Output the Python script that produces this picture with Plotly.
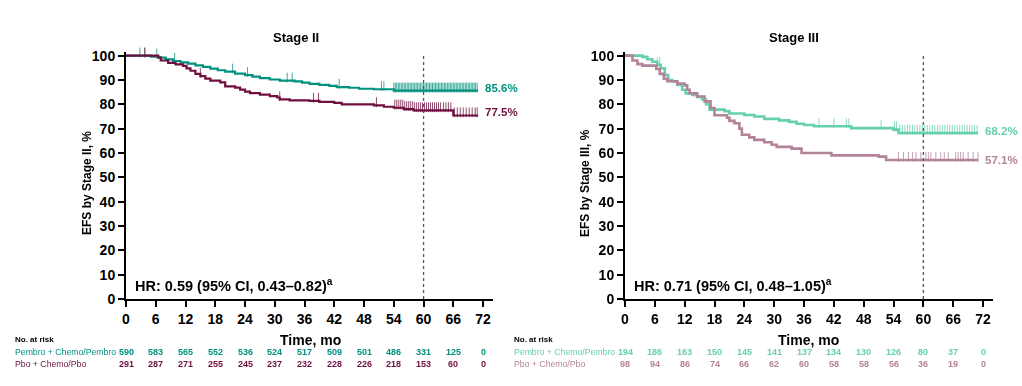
import plotly.graph_objects as go

# ---------------- data ----------------
time_ticks = [0, 6, 12, 18, 24, 30, 36, 42, 48, 54, 60, 66, 72]
y_ticks = [0, 10, 20, 30, 40, 50, 60, 70, 80, 90, 100]

# Stage II
s2_pem_t = [0, 5, 6.5, 8, 9.5, 11, 12.5, 14, 15.5, 17, 18.5, 20, 22, 24, 25.5, 27, 29, 31, 34, 35.5,
            37, 39, 41, 42.5, 45, 47, 50, 54, 71]
s2_pem_s = [100, 99.6, 99.2, 98.5, 97.8, 97.2, 96.7, 96.0, 95.4, 94.7, 94.0, 93.4, 92.6, 92.0, 91.4,
            90.8, 90.2, 89.7, 89.4, 88.9, 88.4, 88.0, 87.6, 87.1, 86.8, 86.4, 86.2, 85.6, 85.6]
s2_pbo_t = [0, 6.5, 7, 8.5, 10, 11.5, 12.2, 13, 14, 15, 16, 17, 19, 20, 22, 23, 24, 25, 27, 29, 30.5,
            31, 33, 37, 39, 42, 43.5, 50, 52, 54, 56, 58, 62, 66, 71]
s2_pbo_s = [100, 99.3, 98.0, 97.0, 96.4, 95.8, 94.8, 93.8, 92.5, 91.6, 90.6, 89.7, 89.0, 87.4, 86.9,
            86.0, 85.2, 84.6, 84.0, 83.4, 82.8, 82.0, 81.6, 81.4, 81.0, 80.6, 80.0, 79.6, 79.0, 78.6,
            78.0, 77.5, 77.5, 75.4, 75.4]
s2_pem_cens = [2.8, 3.8, 6.2, 9.8, 21.5, 24.5, 32.5, 33.5, 43, 51.5, 52, 54, 54.3, 54.6, 54.9, 55.2,
               55.5, 55.8, 56.1, 56.4, 56.7, 57.0, 57.3, 57.6, 57.9, 58.2, 58.5, 58.8, 59.1, 59.4, 59.7,
               60.0, 60.3, 60.6, 60.9, 61.2, 61.5, 61.8, 62.1, 62.4, 62.7, 63.0, 63.3, 63.6, 63.9, 64.2,
               64.5, 64.8, 65.1, 65.4, 65.7, 66.0, 66.3, 66.6, 66.9, 67.2, 67.5, 67.8, 68.1, 68.4, 68.7,
               69.0, 69.3, 69.6, 69.9, 70.2, 70.5, 70.8]
s2_pbo_cens = [3.8, 15, 31, 37.8, 38.8, 50.5, 54.2, 54.6, 55.0, 55.4, 55.8, 56.2, 56.6, 57.0, 57.4,
               57.8, 58.2, 58.6, 59.0, 59.4, 59.8, 60.2, 60.6, 61.0, 61.4, 61.8, 62.2, 62.6, 63.0, 63.4,
               64.0, 64.5, 65.0, 65.5, 66.2, 66.8, 67.4, 68.0, 68.6, 69.2, 69.8, 70.4, 70.8]
s2_risk_pem = [590, 583, 565, 552, 536, 524, 517, 509, 501, 486, 331, 125, 0]
s2_risk_pbo = [291, 287, 271, 255, 245, 237, 232, 228, 226, 218, 153, 60, 0]
s2_pct = ["85.6%", "77.5%"]
s2_pct_y = [86.6, 76.8]
s2_hr = "HR: 0.59 (95% CI, 0.43–0.82)<sup>a</sup>"

# Stage III
s3_pem_t = [0, 3.5, 4.5, 5.5, 6.5, 7.2, 8, 8.7, 9.5, 10.5, 11.5, 12.2, 13.5, 14.5, 15.5, 16.3, 17, 20,
            21, 24, 26, 28, 31, 33, 34.5, 36, 38, 45.5, 54, 55, 71]
s3_pem_s = [100, 99.5, 98.5, 97.5, 96.2, 94.8, 92.0, 90.0, 89.4, 88.0, 86.0, 84.5, 83.8, 83.0, 82.0,
            80.0, 77.8, 77.2, 76.2, 75.6, 75.0, 74.0, 73.4, 72.8, 72.0, 71.5, 71.0, 70.2, 69.6, 68.2, 68.2]
s3_pbo_t = [0, 1.5, 2.5, 3.5, 6.3, 7.0, 7.8, 8.5, 10.5, 12.0, 12.5, 13, 14.5, 16, 17.2, 18, 20.5, 21,
            22, 23, 23.5, 25, 26, 28, 29.5, 30.5, 33.5, 35.5, 41.5, 51, 52.5, 71]
s3_pbo_s = [100, 98.0, 96.5, 95.9, 94.5, 92.5, 90.5, 89.5, 88.5, 87.8, 86.0, 84.5, 83.2, 81.2, 78.5,
            75.5, 74.5, 73.2, 72.2, 70.0, 67.5, 66.4, 65.4, 64.4, 63.4, 62.5, 61.8, 60.0, 59.0, 58.5,
            57.1, 57.1]
s3_pem_cens = [6.5, 7, 39, 42, 44.5, 45, 51.5, 54.2, 54.6, 55.3, 55.8, 56.3, 56.8, 57.3, 57.8, 58.3,
               58.8, 59.3, 59.8, 60.3, 60.8, 61.3, 61.8, 62.3, 62.8, 63.3, 63.8, 64.3, 64.8, 65.3, 65.8,
               66.3, 66.8, 67.3, 67.8, 68.3, 68.8, 69.3, 69.8, 70.3, 70.8]
s3_pbo_cens = [55, 56, 57, 57.8, 58.5, 59.5, 60.5, 61, 61.5, 62.5, 63.5, 64.2, 65, 66.5, 67, 67.5, 68,
               69, 70, 71]
s3_risk_pem = [194, 186, 163, 150, 145, 141, 137, 134, 130, 126, 80, 37, 0]
s3_risk_pbo = [98, 94, 86, 74, 66, 62, 60, 58, 58, 56, 36, 19, 0]
s3_pct = ["68.2%", "57.1%"]
s3_pct_y = [69.0, 57.3]
s3_hr = "HR: 0.71 (95% CI, 0.48–1.05)<sup>a</sup>"

arm_labels = ["Pembro + Chemo/Pembro", "Pbo + Chemo/Pbo"]
landmark = 60

# ---------------- style ----------------
FONT = "Liberation Sans, Arial, sans-serif"
C2 = ["#00917F", "#6E0F3F"]
C3 = ["#66CFAE", "#B3839A"]
W, H = 1022, 386


def step_at(ts, ss, t):
    v = ss[0]
    for ti, si in zip(ts, ss):
        if ti <= t:
            v = si
        else:
            break
    return v


fig = go.Figure()

panels = [
    dict(ax="", title="Stage II", ytitle="EFS by Stage II, %", colors=C2,
         curves=[(s2_pem_t, s2_pem_s, s2_pem_cens), (s2_pbo_t, s2_pbo_s, s2_pbo_cens)],
         risk=[s2_risk_pem, s2_risk_pbo], pct=s2_pct, pct_y=s2_pct_y, hr=s2_hr,
         xdom=[126 / W, 493 / W], label_x=13 / W, title_x=296 / W, xt_x=310 / W, yt_x=87 / W, lw=2.2),
    dict(ax="2", title="Stage III", ytitle="EFS by Stage III, %", colors=C3,
         curves=[(s3_pem_t, s3_pem_s, s3_pem_cens), (s3_pbo_t, s3_pbo_s, s3_pbo_cens)],
         risk=[s3_risk_pem, s3_risk_pbo], pct=s3_pct, pct_y=s3_pct_y, hr=s3_hr,
         xdom=[625 / W, 993 / W], label_x=512 / W, title_x=794 / W, xt_x=808 / W, yt_x=585 / W, lw=2.6),
]

ydom = [1 - 299 / H, 1 - 52 / H]
row_y = [1 - 352 / H, 1 - 364 / H]

for p in panels:
    xa = "x" + p["ax"]
    ya = "y" + p["ax"]
    for (ts, ss, cens), col in zip(p["curves"], p["colors"]):
        fig.add_trace(go.Scatter(x=ts, y=ss, mode="lines", line=dict(color=col, width=p["lw"], shape="hv"),
                                 xaxis=xa, yaxis=ya, showlegend=False, hoverinfo="skip"))
        cy = [step_at(ts, ss, c) + 1.3 for c in cens]
        fig.add_trace(go.Scatter(x=cens, y=cy, mode="markers", cliponaxis=False,
                                 marker=dict(symbol="line-ns", size=7, line=dict(color=col, width=1.0)),
                                 opacity=0.75, xaxis=xa, yaxis=ya, showlegend=False, hoverinfo="skip"))
    # landmark dotted line
    fig.add_trace(go.Scatter(x=[landmark, landmark], y=[0, 100], mode="lines",
                             line=dict(color="#555555", width=1.3, dash="dot"),
                             xaxis=xa, yaxis=ya, showlegend=False, hoverinfo="skip"))
    # percent labels
    for txt, yv, col, (ts, ss, cens) in zip(p["pct"], p["pct_y"], p["colors"], p["curves"]):
        fig.add_annotation(x=ts[-1], y=yv, xref=xa, yref=ya, text=txt, showarrow=False,
                           xanchor="left", xshift=5, font=dict(family=FONT, size=11.5, color=col, weight="bold"))
    # HR
    fig.add_annotation(x=1.4, y=1.2, xref=xa, yref=ya, text=p["hr"], showarrow=False,
                       xanchor="left", yanchor="bottom",
                       font=dict(family=FONT, size=14.5, color="black", weight="bold"))
    # panel title
    fig.add_annotation(x=p["title_x"], y=1 - 37 / H, xref="paper", yref="paper",
                       text=p["title"], showarrow=False, xanchor="center", yanchor="middle",
                       font=dict(family=FONT, size=13, color="black", weight="bold"))
    # axis titles
    fig.add_annotation(x=p["xt_x"], y=1 - 340 / H, xref="paper", yref="paper",
                       text="Time, mo", showarrow=False, xanchor="center", yanchor="middle",
                       font=dict(family=FONT, size=14, color="black", weight="bold"))
    fig.add_annotation(x=p["yt_x"], y=1 - 183 / H, xref="paper", yref="paper",
                       text=p["ytitle"], showarrow=False, textangle=-90, xanchor="center", yanchor="middle",
                       font=dict(family=FONT, size=12, color="black", weight="bold"))
    # risk table
    fig.add_annotation(x=p["label_x"], y=1 - 339 / H, xref="paper", yref="paper",
                       text="No. at risk", showarrow=False, xanchor="left", yanchor="middle",
                       font=dict(family=FONT, size=8, color="black", weight="bold"))
    for vals, col, lab, ry in zip(p["risk"], p["colors"], arm_labels, row_y):
        fig.add_annotation(x=p["label_x"], y=ry, xref="paper", yref="paper", text=lab, showarrow=False,
                           xanchor="left", yanchor="middle", font=dict(family=FONT, size=8.7, color=col))
        for t, v in zip(time_ticks, vals):
            fig.add_annotation(x=t, y=ry, xref=xa, yref="paper", text=str(v), showarrow=False,
                               xanchor="center", yanchor="middle",
                               font=dict(family=FONT, size=9, color=col, weight="bold"))

axis_common = dict(showgrid=False, zeroline=False, showline=True, linecolor="black", linewidth=2,
                   ticks="outside", ticklen=6, tickwidth=2, tickcolor="black", automargin=False,
                   tickfont=dict(family=FONT, size=14, color="black", weight="bold"))

layout = dict(width=W, height=H, margin=dict(l=0, r=0, t=0, b=0, pad=0, autoexpand=False),
              paper_bgcolor="white", plot_bgcolor="white", showlegend=False)
for p in panels:
    xk = "xaxis" + p["ax"]
    yk = "yaxis" + p["ax"]
    layout[xk] = dict(axis_common, domain=p["xdom"], range=[0, 74], tickvals=time_ticks,
                      anchor="y" + p["ax"])
    layout[yk] = dict(axis_common, domain=ydom, range=[0, 101.5], tickvals=y_ticks,
                      anchor="x" + p["ax"])

fig.update_layout(**layout)
fig.write_html("out.html", config={"displayModeBar": False},
               post_script="document.body.style.margin='0px';")
